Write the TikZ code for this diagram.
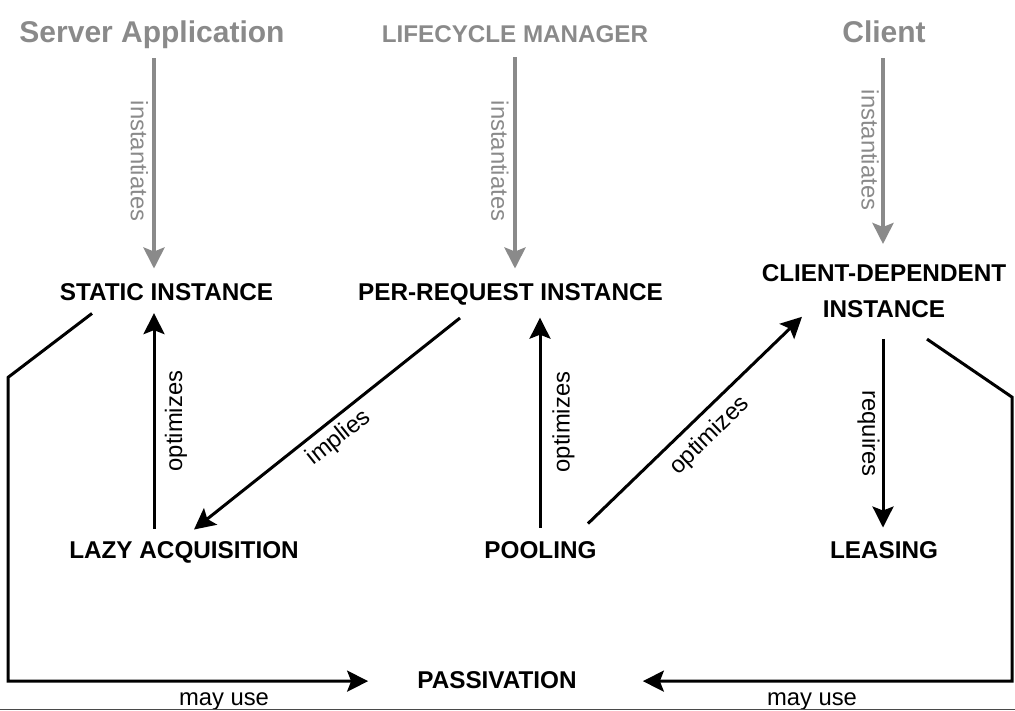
\documentclass[tikz,border=0pt]{standalone}
\usepackage{fontspec}
\setmainfont{Liberation Sans}
\usetikzlibrary{arrows.meta}
\definecolor{hdrgray}{HTML}{8A8A8A}
\definecolor{rulegray}{HTML}{4A4A4A}
\begin{document}
\begin{tikzpicture}[x=1pt,y=-1pt,
  hdr/.style={font=\fontsize{30}{30}\selectfont\bfseries, text=hdrgray, inner sep=0pt, anchor=base},
  hdrsmall/.style={font=\fontsize{24.2}{24}\selectfont\bfseries, text=hdrgray, inner sep=0pt, anchor=base},
  concept/.style={font=\fontsize{24.3}{36}\selectfont\bfseries, inner sep=0pt, anchor=base, align=center},
  lbl/.style={font=\fontsize{23.8}{24}\selectfont, inner sep=0pt},
  glbl/.style={lbl, text=hdrgray},
  tip/.style={-{Stealth[length=21pt,width=21pt,inset=4pt]}},
  blk/.style={tip, line width=3pt, line join=miter},
  gry/.style={tip, draw=hdrgray, line width=4pt}
]
\useasboundingbox (0,0) rectangle (1015,711);

% headers
\node[hdr] (sa) at (152,43) {Server Application};
\node[hdrsmall] (lm) at (515,43) {LIFECYCLE MANAGER};
\node[hdr] (cl) at (884,43) {Client};

% concepts
\node[concept] (si) at (166.5,301) {STATIC INSTANCE};
\node[concept] (pr) at (510.5,301) {PER-REQUEST INSTANCE};
\node[concept, anchor=north] (cd) at (884,264.5) {CLIENT-DEPENDENT\\INSTANCE};
\node[concept] (la) at (184,558) {LAZY ACQUISITION};
\node[concept] (po) at (540.5,558) {POOLING};
\node[concept] (le) at (884,558) {LEASING};
\node[concept] (pa) at (497,688) {PASSIVATION};

% instantiates arrows
\draw[gry, shorten <=8.7pt, shorten >=15.3pt] (sa.south -| 154,0) -- (si.north -| 154,0);
\draw[gry, shorten <=13.7pt, shorten >=15.3pt] (lm.south -| 515,0) -- (pr.north -| 515,0);
\draw[gry, shorten <=14.7pt, shorten >=20.5pt] (cl.south -| 883,0) -- (cd.north -| 883,0);
\node[glbl, rotate=-90] (i1) at (139.5,161) {instantiates};
\node[glbl, rotate=-90] (i2) at (500,161) {instantiates};
\node[glbl, rotate=-90] (i3) at (870,150) {instantiates};

% optimizes (vertical)
\draw[blk, shorten <=12.3pt, shorten >=11.7pt] (la.north -| 154,0) -- (si.south -| 154,0);
\node[lbl, rotate=90] (o1) at (176,421) {optimizes};
\draw[blk, shorten <=13.3pt, shorten >=11.7pt] (po.north -| 540,0) -- (pr.south -| 540,0);
\node[lbl, rotate=90] (o2) at (563.5,422) {optimizes};

% implies
\draw[blk] ([shift={(-50.5,12)}]pr.south) -- ([shift={(10,-11.3)}]la.north);
\node[lbl, rotate=38.7] (im) at (339,438) {implies};

% optimizes (diagonal)
\draw[blk] ([shift={(47.5,-17.3)}]po.north) -- ([shift={(-82,-1.3)}]cd.south);
\node[lbl, rotate=44] (o3) at (710,436) {optimizes};

% requires
\draw[blk, shorten <=20.7pt, shorten >=13.3pt] (cd.south -| 883,0) -- (le.north -| 883,0);
\node[lbl, rotate=-90] (rq) at (868.5,433.5) {requires};

% may use routes
\draw[blk] ([shift={(-74.5,12)}]si.south) -- ++(-84,64) |- ([shift={(-49,1.5)}]pa.west);
\draw[blk] ([shift={(43,21)}]cd.south) -- ++(85,58) |- ([shift={(66,1.5)}]pa.east);
\node[lbl, anchor=base] (mu1) at (224,705) {may use};
\node[lbl, anchor=base] (mu2) at (812,705) {may use};

% bottom rule
\draw[rulegray, line width=1.5pt] (0,709.5) -- (1015,709.5);
\end{tikzpicture}
\end{document}
